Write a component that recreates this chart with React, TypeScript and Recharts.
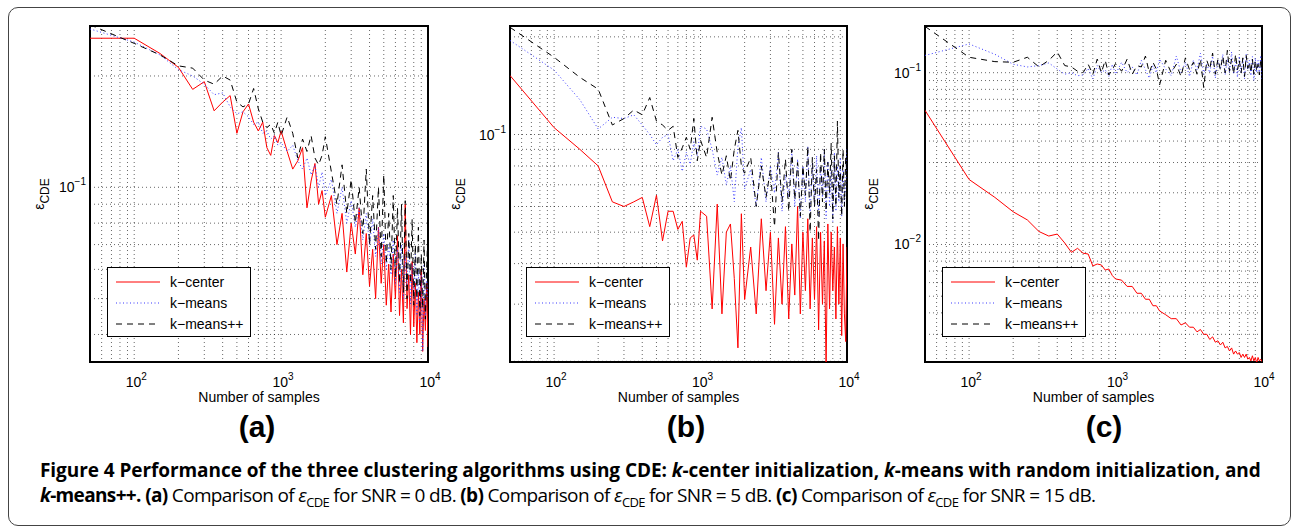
import React from "react"
import { LineChart, Line, XAxis, YAxis, CartesianGrid, ReferenceArea, Legend } from "recharts"

// sample counts shared by all three panels
const samples = [
  50, 100, 150, 200, 250, 300, 350, 400, 450, 500,
  550, 600, 650, 700, 750, 800, 850, 900, 950, 1000,
  1100, 1200, 1300, 1400, 1500, 1600, 1700, 1800, 1900, 2000,
  2200, 2400, 2600, 2800, 3000, 3200, 3400, 3600, 3800, 4000,
  4200, 4400, 4600, 4800, 5000, 5200, 5400, 5600, 5800, 6000,
  6200, 6400, 6600, 6800, 7000, 7200, 7400, 7600, 7800, 8000,
  8200, 8400, 8600, 8800, 9000, 9200, 9400, 9600, 9800, 10000,
]

// (a) SNR = 0 dB
const centerA = [
  0.253, 0.253, 0.23, 0.211, 0.184, 0.193, 0.161, 0.17, 0.177, 0.14,
  0.16, 0.168, 0.15, 0.142, 0.15, 0.128, 0.122, 0.138, 0.132, 0.142,
  0.125, 0.112, 0.118, 0.128, 0.088, 0.104, 0.116, 0.09, 0.098, 0.083,
  0.095, 0.07, 0.085, 0.059, 0.08, 0.066, 0.088, 0.058, 0.075, 0.054,
  0.068, 0.05, 0.078, 0.055, 0.07, 0.048, 0.062, 0.046, 0.066, 0.05,
  0.074, 0.045, 0.06, 0.043, 0.09, 0.047, 0.058, 0.04, 0.063, 0.042,
  0.055, 0.038, 0.052, 0.04, 0.06, 0.036, 0.05, 0.041, 0.055, 0.037,
]
const meansA = [
  0.268, 0.247, 0.228, 0.208, 0.2, 0.19, 0.178, 0.18, 0.165, 0.158,
  0.16, 0.155, 0.148, 0.15, 0.14, 0.142, 0.135, 0.138, 0.13, 0.132,
  0.125, 0.13, 0.118, 0.112, 0.12, 0.108, 0.115, 0.1, 0.11, 0.095,
  0.105, 0.085, 0.1, 0.08, 0.092, 0.078, 0.088, 0.072, 0.085, 0.07,
  0.082, 0.065, 0.078, 0.062, 0.075, 0.06, 0.07, 0.058, 0.072, 0.055,
  0.068, 0.052, 0.07, 0.05, 0.065, 0.054, 0.072, 0.048, 0.062, 0.05,
  0.066, 0.045, 0.06, 0.043, 0.058, 0.036, 0.062, 0.044, 0.056, 0.05,
]
const plusA = [
  0.275, 0.245, 0.228, 0.213, 0.21, 0.195, 0.19, 0.2, 0.195, 0.17,
  0.165, 0.168, 0.185, 0.163, 0.15, 0.145, 0.148, 0.14, 0.15, 0.138,
  0.155, 0.14, 0.12, 0.135, 0.125, 0.138, 0.12, 0.115, 0.122, 0.137,
  0.11, 0.09, 0.115, 0.085, 0.105, 0.08, 0.1, 0.075, 0.112, 0.07,
  0.095, 0.068, 0.1, 0.065, 0.108, 0.062, 0.085, 0.06, 0.095, 0.057,
  0.088, 0.055, 0.09, 0.052, 0.092, 0.05, 0.075, 0.055, 0.082, 0.048,
  0.07, 0.05, 0.078, 0.045, 0.066, 0.047, 0.072, 0.044, 0.062, 0.075,
]

// (b) SNR = 5 dB
const centerB = [
  0.152, 0.105, 0.09, 0.08, 0.062, 0.06, 0.062, 0.064, 0.052, 0.065,
  0.047, 0.058, 0.058, 0.051, 0.054, 0.039, 0.048, 0.049, 0.041, 0.058,
  0.056, 0.029, 0.061, 0.028, 0.05, 0.053, 0.036, 0.022, 0.057, 0.031,
  0.045, 0.028, 0.055, 0.033, 0.05, 0.026, 0.048, 0.03, 0.052, 0.027,
  0.046, 0.032, 0.06, 0.028, 0.05, 0.033, 0.055, 0.029, 0.048, 0.031,
  0.052, 0.025, 0.05, 0.03, 0.047, 0.019, 0.053, 0.029, 0.05, 0.033,
  0.045, 0.027, 0.052, 0.03, 0.048, 0.024, 0.046, 0.028, 0.023, 0.045,
]
const meansB = [
  0.195, 0.158, 0.128, 0.104, 0.113, 0.112, 0.115, 0.107, 0.1, 0.093,
  0.098, 0.1, 0.083, 0.09, 0.077, 0.088, 0.081, 0.095, 0.086, 0.106,
  0.104, 0.09, 0.075, 0.085, 0.07, 0.08, 0.062, 0.092, 0.105, 0.068,
  0.078, 0.06, 0.085, 0.062, 0.08, 0.066, 0.088, 0.058, 0.075, 0.064,
  0.09, 0.06, 0.084, 0.055, 0.08, 0.062, 0.092, 0.057, 0.082, 0.06,
  0.086, 0.056, 0.08, 0.064, 0.09, 0.055, 0.083, 0.06, 0.078, 0.054,
  0.088, 0.058, 0.08, 0.062, 0.085, 0.056, 0.078, 0.061, 0.07, 0.09,
]
const plusB = [
  0.214, 0.173, 0.15, 0.138, 0.107, 0.112, 0.119, 0.115, 0.13, 0.11,
  0.107, 0.103, 0.106, 0.085, 0.091, 0.098, 0.09, 0.112, 0.083, 0.096,
  0.085, 0.113, 0.088, 0.075, 0.086, 0.072, 0.09, 0.103, 0.08, 0.076,
  0.085, 0.06, 0.08, 0.064, 0.078, 0.052, 0.088, 0.062, 0.084, 0.058,
  0.09, 0.063, 0.082, 0.056, 0.08, 0.065, 0.092, 0.05, 0.085, 0.06,
  0.078, 0.047, 0.088, 0.062, 0.09, 0.058, 0.082, 0.066, 0.094, 0.055,
  0.086, 0.06, 0.11, 0.064, 0.08, 0.056, 0.09, 0.06, 0.085, 0.075,
]

// (c) SNR = 15 dB
const centerC = [
  0.0604, 0.0239, 0.0188, 0.0155, 0.0139, 0.0119, 0.0112, 0.0115, 0.0102, 0.009,
  0.0095, 0.0089, 0.0088, 0.0075, 0.0077, 0.0076, 0.0071, 0.0072, 0.0066, 0.0063,
  0.0062, 0.0057, 0.0057, 0.0052, 0.0052, 0.0048, 0.0048, 0.0044, 0.0044, 0.0041,
  0.0039, 0.0037, 0.0037, 0.0034, 0.0035, 0.0033, 0.0033, 0.0031, 0.0032, 0.003,
  0.003, 0.0028, 0.0029, 0.0027, 0.00275, 0.0026, 0.0027, 0.0025, 0.00255, 0.0024,
  0.0025, 0.0023, 0.0024, 0.0023, 0.00235, 0.0022, 0.0023, 0.0022, 0.0023, 0.00215,
  0.0022, 0.0021, 0.00225, 0.0021, 0.0022, 0.00205, 0.0022, 0.0021, 0.00215, 0.00208,
]
const meansC = [
  0.126, 0.147, 0.128, 0.112, 0.108, 0.11, 0.114, 0.105, 0.098, 0.1,
  0.096, 0.097, 0.106, 0.092, 0.11, 0.1, 0.104, 0.095, 0.112, 0.098,
  0.115, 0.1, 0.108, 0.097, 0.118, 0.104, 0.093, 0.11, 0.1, 0.12,
  0.105, 0.096, 0.125, 0.1, 0.115, 0.095, 0.118, 0.104, 0.13, 0.098,
  0.112, 0.1, 0.125, 0.093, 0.118, 0.105, 0.128, 0.097, 0.12, 0.1,
  0.132, 0.098, 0.115, 0.094, 0.125, 0.1, 0.12, 0.092, 0.128, 0.104,
  0.118, 0.096, 0.124, 0.09, 0.122, 0.1, 0.118, 0.098, 0.126, 0.09,
]
const plusC = [
  0.186, 0.123, 0.116, 0.115, 0.123, 0.108, 0.118, 0.132, 0.11, 0.108,
  0.102, 0.1, 0.112, 0.098, 0.12, 0.1, 0.118, 0.097, 0.104, 0.113,
  0.102, 0.12, 0.098, 0.11, 0.108, 0.125, 0.1, 0.115, 0.105, 0.085,
  0.118, 0.1, 0.112, 0.095, 0.122, 0.104, 0.115, 0.098, 0.12, 0.082,
  0.118, 0.105, 0.13, 0.098, 0.12, 0.104, 0.125, 0.1, 0.135, 0.102,
  0.12, 0.098, 0.128, 0.104, 0.118, 0.1, 0.122, 0.095, 0.126, 0.106,
  0.115, 0.1, 0.12, 0.098, 0.118, 0.102, 0.112, 0.097, 0.12, 0.105,
]

// axes, grid and labels
const xGrid = [50, 60, 70, 80, 90, 100, 200, 300, 400, 500, 600, 700, 800, 900, 1000, 2000, 3000, 4000, 5000, 6000, 7000, 8000, 9000, 10000]
const xDecades = [100, 1000, 10000]
const xExps = ["2", "3", "4"]
const yGridA = [0.04, 0.05, 0.06, 0.07, 0.08, 0.09, 0.1, 0.2]
const yGridB = [0.02, 0.03, 0.04, 0.05, 0.06, 0.07, 0.08, 0.09, 0.1, 0.2]
const yGridC = [0.003, 0.004, 0.005, 0.006, 0.007, 0.008, 0.009, 0.01, 0.02, 0.03, 0.04, 0.05, 0.06, 0.07, 0.08, 0.09, 0.1]
const seriesNames = ["k\u2212center", "k\u2212means", "k\u2212means++"]
const panelTags = ["(a)", "(b)", "(c)"]

const AX_FONT = "'Liberation Sans', Arial, Helvetica, sans-serif"
const CAP_FONT = "'Open Sans', Lato, sans-serif"

const styles = [
  { stroke: "#ff0000", dash: undefined },
  { stroke: "#3838ff", dash: "1 2.5" },
  { stroke: "#000000", dash: "6 5" },
]

function XTick({ x, y, payload }: any) {
  const i = xDecades.indexOf(payload.value)
  if (i < 0) return <g />
  return (
    <text x={x + 2} y={y + 25} textAnchor="middle" fontFamily={AX_FONT} fontSize={14} fill="#000">
      10<tspan dy={-7} fontSize={10}>{xExps[i]}</tspan>
    </text>
  )
}

function makeYTick(decades: number[], exps: string[]) {
  return ({ x, y, payload }: any) => {
    const i = decades.indexOf(payload.value)
    if (i < 0) return <g />
    return (
      <text x={x - 4} y={y + 5} textAnchor="end" fontFamily={AX_FONT} fontSize={14} fill="#000">
        10<tspan dy={-7} fontSize={10}>{exps[i]}</tspan>
      </text>
    )
  }
}

function LegendBox() {
  return (
    <div
      style={{
        width: 142,
        height: 68,
        border: "1.5px solid #000",
        background: "#fff",
        fontFamily: AX_FONT,
        fontSize: 14,
        color: "#000",
      }}
    >
      {seriesNames.map((name, i) => (
        <div key={name} style={{ display: "flex", alignItems: "center", height: 21, marginTop: i === 0 ? 3 : 0 }}>
          <svg width={54} height={10} style={{ marginLeft: 8 }}>
            <line x1={0} y1={5} x2={44} y2={5} stroke={styles[i].stroke} strokeDasharray={styles[i].dash} strokeWidth={1} />
          </svg>
          <span>{name}</span>
        </div>
      ))}
    </div>
  )
}

interface PanelProps {
  left: number
  plotW: number
  center: number[]
  means: number[]
  plus: number[]
  yDomain: [number, number]
  yGrid: number[]
  yDecades: number[]
  yExps: string[]
  yLabelOff: number
  legendLeft: number
}

function Panel(p: PanelProps) {
  const rows = samples.map((n, i) => ({ n, kc: p.center[i], km: p.means[i], kpp: p.plus[i] }))
  const axisW = 70
  const chartLeft = p.left - axisW
  const YTick = makeYTick(p.yDecades, p.yExps)
  return (
    <div style={{ position: "absolute", left: chartLeft, top: 0 }}>
      <LineChart width={axisW + p.plotW + 20} height={412} data={rows} margin={{ top: 26, right: 20, left: 0, bottom: 0 }}>
        <CartesianGrid stroke="#000" strokeDasharray="1 3" strokeWidth={0.8} strokeOpacity={0.75} />
        <XAxis
          dataKey="n"
          type="number"
          scale="log"
          domain={[50, 10000]}
          ticks={xGrid}
          allowDataOverflow
          height={50}
          tickLine={false}
          axisLine={false}
          tickSize={0}
          tickMargin={0}
          tick={<XTick />}
          interval={0}
          label={{
            content: ({ viewBox }: any) => (
              <text
                x={viewBox.x + viewBox.width / 2}
                y={viewBox.y + 40}
                textAnchor="middle"
                fontFamily={AX_FONT}
                fontSize={14}
                fill="#000"
              >
                Number of samples
              </text>
            ),
          }}
        />
        <YAxis
          type="number"
          scale="log"
          domain={p.yDomain}
          ticks={p.yGrid}
          allowDataOverflow
          width={axisW}
          tickLine={false}
          axisLine={false}
          tickSize={0}
          tickMargin={0}
          tick={<YTick />}
          interval={0}
          label={{
            content: ({ viewBox }: any) => {
              const bx = viewBox.x + viewBox.width - p.yLabelOff
              const by = viewBox.y + viewBox.height / 2
              return (
                <text
                  x={bx}
                  y={by}
                  transform={`rotate(-90 ${bx} ${by})`}
                  textAnchor="middle"
                  fontFamily={AX_FONT}
                  fontSize={14}
                  fill="#000"
                >
                  {"\u03b5"}
                  <tspan dy={5} fontSize={12}>CDE</tspan>
                </text>
              )
            },
          }}
        />
        <Line dataKey="kc" stroke={styles[0].stroke} strokeWidth={1} dot={false} isAnimationActive={false} />
        <Line dataKey="km" stroke={styles[1].stroke} strokeWidth={1} strokeDasharray={styles[1].dash} dot={false} isAnimationActive={false} />
        <Line dataKey="kpp" stroke={styles[2].stroke} strokeWidth={1} strokeDasharray={styles[2].dash} dot={false} isAnimationActive={false} />
        <ReferenceArea
          x1={50}
          x2={10000}
          y1={p.yDomain[0]}
          y2={p.yDomain[1]}
          fill="none"
          fillOpacity={0}
          stroke="#000"
          strokeOpacity={1}
          strokeWidth={2}
          ifOverflow="visible"
        />
        <Legend
          layout="vertical"
          align="center"
          verticalAlign="middle"
          content={() => <LegendBox />}
          wrapperStyle={{ left: p.legendLeft - chartLeft, top: 267, width: 145 }}
        />
      </LineChart>
    </div>
  )
}

export default function App() {
  return (
    <div style={{ position: "absolute", left: 0, top: 0, width: 1292, height: 527, background: "#fff", overflow: "hidden" }}>
      <div
        style={{
          position: "absolute",
          left: 8,
          top: 7,
          width: 1283,
          height: 519,
          boxSizing: "border-box",
          border: "1px solid #444",
          borderRadius: 10,
        }}
      />
      <Panel left={90} plotW={338} center={centerA} means={meansA} plus={plusA} yDomain={[0.0337, 0.273]} yGrid={yGridA} yDecades={[0.1]} yExps={["\u22121"]} yLabelOff={46} legendLeft={107} />
      <Panel left={510} plotW={337} center={centerB} means={meansB} plus={plusB} yDomain={[0.0199, 0.216]} yGrid={yGridB} yDecades={[0.1]} yExps={["\u22121"]} yLabelOff={50} legendLeft={526} />
      <Panel left={925} plotW={337} center={centerC} means={meansC} plus={plusC} yDomain={[0.00207, 0.187]} yGrid={yGridC} yDecades={[0.01, 0.1]} yExps={["\u22122", "\u22121"]} yLabelOff={52} legendLeft={942} />
      {[257, 686, 1104].map((cx, i) => (
        <div
          key={panelTags[i]}
          style={{
            position: "absolute",
            left: cx - 40,
            width: 80,
            top: 410,
            textAlign: "center",
            fontFamily: AX_FONT,
            fontWeight: "bold",
            fontSize: 30,
            lineHeight: "34px",
          }}
        >
          {panelTags[i]}
        </div>
      ))}
      <div
        style={{
          position: "absolute",
          left: 40,
          top: 458,
          fontFamily: CAP_FONT,
          fontSize: 19,
          lineHeight: "25px",
          whiteSpace: "nowrap",
          color: "#000",
        }}
      >
        <div style={{ letterSpacing: -0.07 }}>
          <b>
            Figure 4 Performance of the three clustering algorithms using CDE: <i>k</i>-center initialization, <i>k</i>-means with
            random initialization, and
          </b>
        </div>
        <div style={{ letterSpacing: -0.65 }}>
          <b>
            <i>k</i>-means++.
          </b>{" "}
          <b>(a)</b> Comparison of <i>ε</i>
          <sub style={{ fontSize: 13, lineHeight: 0 }}>CDE</sub> for SNR = 0 dB. <b>(b)</b> Comparison of <i>ε</i>
          <sub style={{ fontSize: 13, lineHeight: 0 }}>CDE</sub> for SNR = 5 dB. <b>(c)</b> Comparison of <i>ε</i>
          <sub style={{ fontSize: 13, lineHeight: 0 }}>CDE</sub> for SNR = 15 dB.
        </div>
      </div>
    </div>
  )
}
